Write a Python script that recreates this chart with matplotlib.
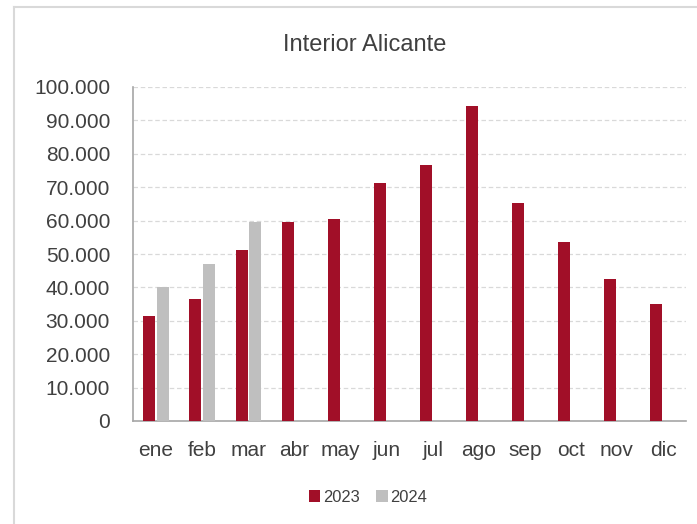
import matplotlib
matplotlib.use("Agg")
import matplotlib.pyplot as plt
import numpy as np
from matplotlib.ticker import FuncFormatter
from matplotlib.lines import Line2D

months = ["ene", "feb", "mar", "abr", "may", "jun", "jul", "ago", "sep", "oct", "nov", "dic"]
v2023 = [31400, 36600, 51200, 59600, 60500, 71300, 76600, 94200, 65400, 53700, 42600, 35100]
v2024 = [40100, 47000, 59700, np.nan, np.nan, np.nan, np.nan, np.nan, np.nan, np.nan, np.nan, np.nan]
series_names = ["2023", "2024"]
title = "Interior Alicante"

plt.rcParams['font.family'] = ['Liberation Sans', 'DejaVu Sans']

fig = plt.figure(figsize=(6.97, 5.24), dpi=100)
W, H = 697, 524
ax = fig.add_axes([133 / W, 1 - 421 / H, (686 - 133) / W, (421 - 87) / H])

# chart border (only top and left edges visible in the reference)
bx, by = 14.5 / W, 1 - 6.5 / H
fig.lines.append(Line2D([bx, bx], [0, by], transform=fig.transFigure, color="#d9d9d9", linewidth=1.5))
fig.lines.append(Line2D([bx, 1.0], [by, by], transform=fig.transFigure, color="#d9d9d9", linewidth=1.5))

x = np.arange(len(months))
w = 0.26
c2023 = "#A10F28"
c2024 = "#BFBFBF"
ax.bar(x - 0.145, v2023, width=w, color=c2023, label=series_names[0], zorder=3)
ax.bar(x + 0.148, v2024, width=w, color=c2024, label=series_names[1], zorder=3)

ax.set_xlim(-0.5, len(months) - 0.5)
ax.set_ylim(0, 100000)
ax.set_yticks(np.arange(0, 100001, 10000))
ax.yaxis.set_major_formatter(FuncFormatter(lambda v, p: f"{int(v):,}".replace(",", ".")))
ax.set_xticks(x)
ax.set_xticklabels(months)

ax.tick_params(axis="y", length=0, pad=16.5, labelsize=15, labelcolor="#404040")
ax.tick_params(axis="x", length=0, pad=14.5, labelsize=15, labelcolor="#404040")

ax.grid(axis="y", color="#d9d9d9", linestyle=(0, (3.6, 2.2)), linewidth=0.9, zorder=0)
for s in ["top", "right"]:
    ax.spines[s].set_visible(False)
for s in ["left", "bottom"]:
    ax.spines[s].set_color("#a6a6a6")
    ax.spines[s].set_linewidth(1.2)

fig.text(365 / W, 1 - 45 / H, title, ha="center", va="center", fontsize=17, color="#404040")

leg = fig.legend(loc="center", bbox_to_anchor=(368 / W, 1 - 497 / H), ncol=2, frameon=False,
                 fontsize=11.9, handlelength=0.7, handleheight=0.7, handletextpad=0.15,
                 columnspacing=1.0, labelcolor="#404040")

fig.savefig("out.png", dpi=100)
